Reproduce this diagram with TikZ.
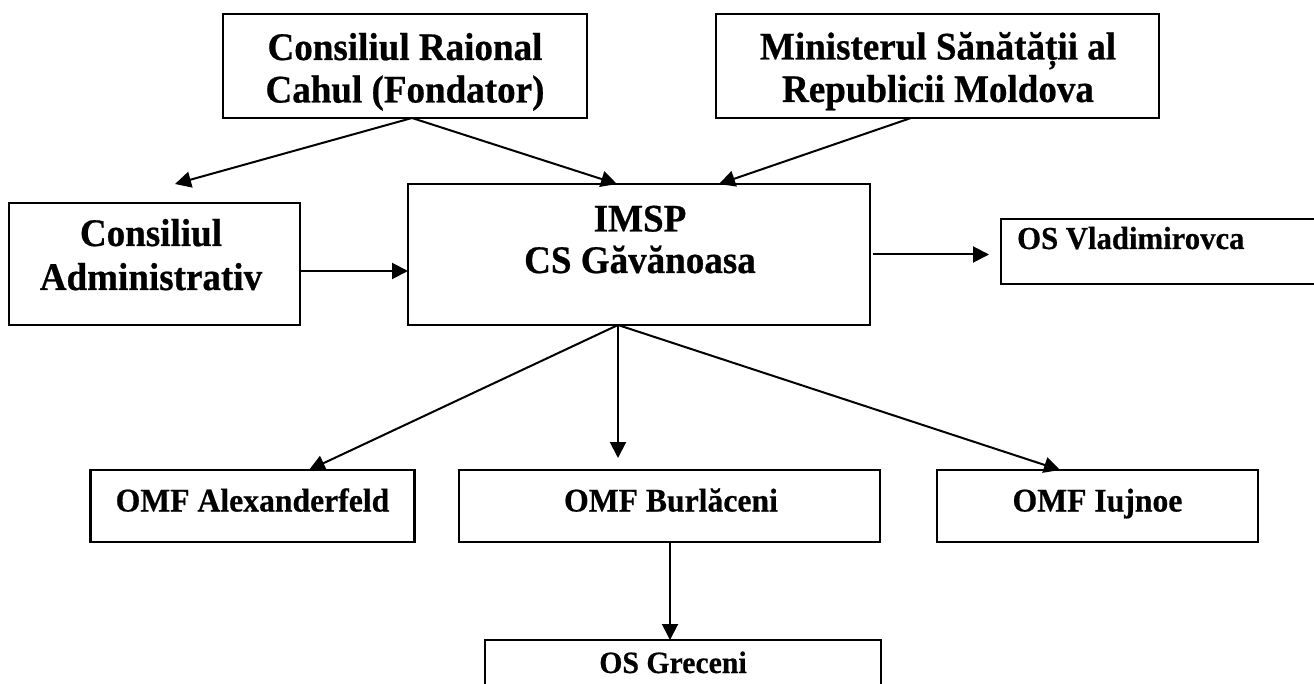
\documentclass[tikz,border=0pt]{standalone}
\usepackage{fontspec}
\setmainfont{Liberation Serif}
\newfontfamily\bigf{Liberation Serif}[FakeStretch=0.95, FakeBold=0.6]
\newfontfamily\smf{Liberation Serif}[FakeStretch=0.96, FakeBold=0.5]
\usetikzlibrary{arrows.meta}
\begin{document}
\begin{tikzpicture}[x=1pt,y=-1pt,
  boxnode/.style={draw, line width=2.2pt, inner sep=0pt, outer sep=0pt},
  bigtext/.style={font=\bigf\bfseries\fontsize{39}{44}\selectfont, anchor=base, inner sep=0pt},
  smalltext/.style={font=\smf\bfseries\fontsize{#1}{36}\selectfont, anchor=base, inner sep=0pt},
  smalltext/.default=33,
  arr/.style={line width=2pt, -{Triangle[length=16pt,width=16pt]}}
]
\clip (0,0) rectangle (1314,684);
\fill[white] (0,0) rectangle (1314,684);

% boxes
\node[boxnode, minimum width=364pt, minimum height=104pt] (cr) at (405,66) {};
\node[boxnode, minimum width=443pt, minimum height=104pt] (ms) at (937.5,66) {};
\node[boxnode, minimum width=291pt, minimum height=122pt] (adm) at (154.5,264) {};
\node[boxnode, minimum width=462pt, minimum height=141pt] (imsp) at (639,254.5) {};
\node[boxnode, minimum width=324pt, minimum height=65pt] (osv) at (1163,251.5) {};
\node[boxnode, minimum width=324pt, minimum height=72pt] (alex) at (252.5,506) {};
\node[boxnode, minimum width=421pt, minimum height=72pt] (burl) at (669.5,506) {};
\node[boxnode, minimum width=321pt, minimum height=72pt] (iuj) at (1097.5,506) {};
\node[boxnode, minimum width=396pt, minimum height=80pt] (gre) at (683,680) {};

% texts
\node[bigtext] (cr1) at (405,60) {Consiliul Raional};
\node[bigtext] (cr2) at (405,102.5) {Cahul (Fondator)};
\node[bigtext] (ms1) at (938,59.5) {Ministerul Sănătății al};
\node[bigtext] (ms2) at (938,102) {Republicii Moldova};
\node[bigtext] (adm1) at (151,246) {Consiliul};
\node[bigtext] (adm2) at (151,290) {Administrativ};
\node[bigtext] (im1) at (640,231.5) {IMSP};
\node[bigtext] (im2) at (640,273) {CS Găvănoasa};
\node[smalltext=32, anchor=base west] (osvt) at (1017,249) {OS Vladimirovca};
\node[smalltext] (alext) at (252.5,511.5) {OMF Alexanderfeld};
\node[smalltext] (burlt) at (671,511.5) {OMF Burlăceni};
\node[smalltext] (iujt) at (1097.5,511.5) {OMF Iujnoe};
\node[smalltext=31] (gret) at (673,673) {OS Greceni};

% connectors
\coordinate (crout) at ([xshift=7pt]cr.south);
\coordinate (admin) at (175,184);
\coordinate (src) at ([xshift=-21pt]imsp.south);
\coordinate (bt) at ([yshift=12pt]burl.north);
\draw[arr] (crout) -- (admin);
\draw[arr] (crout) -- ([xshift=-22pt]imsp.north);
\draw[arr] ([xshift=-26.5pt]ms.south) -- ([xshift=80pt]imsp.north);
\draw[arr] ([yshift=-7pt]adm.east) -- ([yshift=-7pt]adm.east -| imsp.west);
\draw[arr] ([xshift=3pt]imsp.east) -- ([xshift=-12pt]osv.west |- imsp.east);
\draw[arr] (src) -- ([xshift=56.5pt]alex.north);
\draw[arr] (src) -- (src |- bt);
\draw[arr] (src) -- ([xshift=-37.5pt]iuj.north);
\draw[arr] ([xshift=0.5pt]burl.south) -- ([xshift=0.5pt]burl.south |- gre.north);
\end{tikzpicture}
\end{document}
